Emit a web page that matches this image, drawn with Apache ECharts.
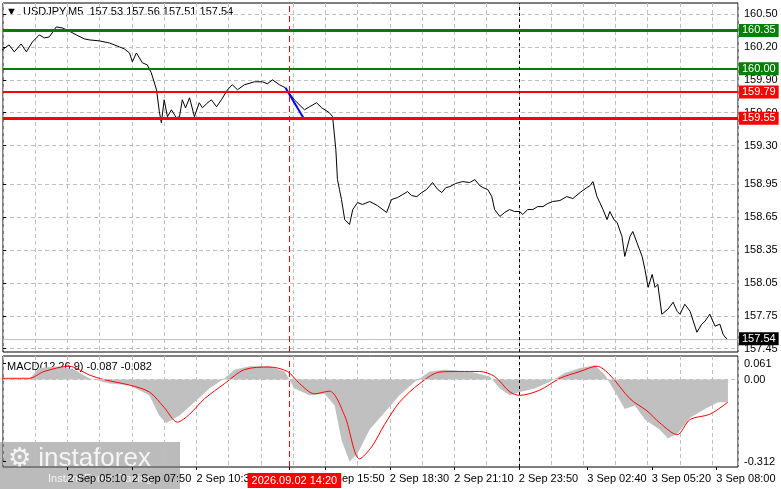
<!DOCTYPE html>
<html>
<head>
<meta charset="utf-8">
<title>USDJPY M5</title>
<style>
* { margin: 0; padding: 0; }
body { background: #fff; }
</style>
</head>
<body>
<div id="chart" style="width: 781px; height: 489px;"></div>
<script src="https://cdn.jsdelivr.net/npm/echarts@6/dist/echarts.min.js"></script>
<script>
// time = minutes since 2 Sep 00:00
var priceTime = [148,165,178,195,208,223,240,253,265,282,297,314,332,352,364,389,414,439,451,464,471,481,496,508,518,531,538,543,550,558,568,580,588,595,603,613,625,637,645,655,667,680,692,707,719,732,749,774,794,806,819,836,851,873,898,911,928,941,960,968,976,980,985,990,998,1010,1018,1030,1042,1060,1079,1102,1114,1129,1142,1154,1164,1177,1189,1201,1216,1229,1239,1249,1259,1273,1291,1308,1321,1333,1341,1353,1363,1370,1383,1395,1407,1420,1432,1440,1452,1465,1477,1490,1502,1514,1532,1549,1564,1582,1599,1607,1614,1624,1631,1639,1649,1656,1666,1674,1686,1693,1706,1713,1723,1736,1743,1751,1761,1768,1775,1785,1800,1813,1823,1830,1842,1855,1872,1884,1892,1904,1917,1929,1937,1942,1947];
var priceValue = [160.173,160.218,160.155,160.227,160.155,160.245,160.309,160.282,160.291,160.382,160.373,160.345,160.309,160.273,160.264,160.255,160.236,160.200,160.182,160.145,160.064,160.145,160.055,160.036,159.964,159.809,159.609,159.509,159.718,159.564,159.627,159.555,159.564,159.718,159.645,159.736,159.564,159.691,159.645,159.682,159.718,159.655,159.718,159.809,159.855,159.809,159.855,159.882,159.882,159.864,159.900,159.855,159.827,159.718,159.627,159.655,159.691,159.645,159.600,159.564,159.264,158.991,158.900,158.809,158.627,158.582,158.718,158.782,158.764,158.791,158.755,158.691,158.809,158.827,158.855,158.882,158.845,158.836,158.873,158.900,158.964,158.900,158.873,158.918,158.927,158.955,158.973,158.964,158.991,158.936,158.918,158.900,158.836,158.718,158.655,158.691,158.718,158.700,158.700,158.673,158.718,158.718,158.745,158.745,158.773,158.791,158.800,158.836,158.818,158.873,158.918,158.936,158.973,158.836,158.782,158.718,158.627,158.700,158.627,158.600,158.473,158.291,158.473,158.518,158.418,158.291,158.173,158.009,158.127,158.009,158.036,157.764,157.809,157.873,157.791,157.764,157.855,157.791,157.600,157.673,157.700,157.764,157.655,157.673,157.582,157.555,157.540];

var trendTime = [851, 896];
var trendValue = [159.827, 159.55];

var histTime = [148,215,240,290,327,364,414,464,513,538,555,588,625,662,700,724,762,811,849,873,911,948,973,990,1010,1030,1060,1097,1134,1172,1209,1246,1308,1358,1383,1408,1432,1470,1507,1544,1582,1619,1644,1669,1693,1718,1743,1780,1800,1825,1855,1892,1924,1949];
var histValue = [0.002,0.002,0.044,0.051,0.038,0.005,-0.015,-0.021,-0.060,-0.138,-0.165,-0.137,-0.086,-0.034,0.005,0.038,0.051,0.051,0.031,-0.034,-0.060,-0.054,-0.099,-0.230,-0.312,-0.282,-0.190,-0.125,-0.060,-0.008,0.031,0.038,0.031,0.012,-0.034,-0.060,-0.047,-0.034,-0.008,0.025,0.044,0.055,0.018,-0.047,-0.112,-0.099,-0.152,-0.191,-0.224,-0.204,-0.145,-0.112,-0.086,-0.086];

var signalTime = [148,215,252,314,364,401,464,513,550,583,613,650,700,749,811,856,886,923,960,998,1035,1065,1097,1134,1184,1234,1283,1333,1370,1408,1432,1482,1532,1582,1624,1656,1706,1748,1780,1823,1855,1904,1949];
var signalValue = [0.005,0.005,0.031,0.051,0.018,0.000,-0.021,-0.047,-0.106,-0.162,-0.132,-0.073,-0.015,0.038,0.048,0.031,-0.015,-0.054,-0.044,-0.138,-0.302,-0.256,-0.171,-0.086,-0.015,0.029,0.031,0.031,0.012,-0.047,-0.060,-0.040,0.005,0.031,0.051,0.018,-0.073,-0.119,-0.165,-0.210,-0.152,-0.132,-0.086];

var priceTicks = [160.50,160.20,159.90,159.60,159.30,158.95,158.65,158.35,158.05,157.75,157.45];
var macdTicks = [0.061,0.00,-0.312];
var timeTicks = [148,310,470,630,860,950,1110,1270,1430,1600,1760,1920];
var markedLabelAt = 757; // left edge of the red time box, centred on 14:20
var timeLabels = [148,310,470,630,950,1110,1270,1430,1600,1760,1920,757];
var levels = [
  { value: 160.35, color: '#008000', width: 3 },
  { value: 160.00, color: '#008000', width: 2 },
  { value: 159.79, color: '#ff0000', width: 2 },
  { value: 159.55, color: '#ff0000', width: 3 }
];
var lastPrice = 157.54;
var markedTime = 860;   // 14:20
var dayBreakTime = 1430; // 23:50

var T0 = 150; // axis origin at 2 Sep 02:30, so gridlines fall on 80-minute steps
function pairs(ts, vs) { return ts.map(function (t, i) { return [t - T0, vs[i]]; }); }
function shift(ts) { return ts.map(function (t) { return t - T0; }); }
function timeLabel(v) {
  var t = Math.round(v + T0);
  if (t === 148) return '2 Sep 2026';
  if (t === markedLabelAt) return '{hl|2026.09.02 14:20}';
  var day = t >= 1440 ? '3 Sep ' : '2 Sep ';
  var m = t % 1440, h = Math.floor(m / 60), mm = m % 60;
  return day + (h < 10 ? '0' : '') + h + ':' + (mm < 10 ? '0' : '') + mm;
}

var font = 'Liberation Sans';
var chart = echarts.init(document.getElementById('chart'));
var xBase = { type: 'value', min: 0, max: 1824, interval: 80,
  axisLine: { show: false }, axisTick: { show: false }, axisLabel: { show: false },
  splitLine: { show: true, lineStyle: { color: '#c0c0c0', type: [4, 3] } } };

chart.setOption({
  animation: false,
  backgroundColor: '#fff',
  textStyle: { fontFamily: font },
  grid: [
    { left: 3, right: 43, top: 3, height: 349, show: true, borderColor: '#000', borderWidth: 1 },
    { left: 3, right: 43, top: 356, height: 111, show: true, borderColor: '#000', borderWidth: 1 }
  ],
  xAxis: [
    Object.assign({ gridIndex: 0 }, xBase),
    Object.assign({ gridIndex: 1 }, xBase),
    { gridIndex: 1, type: 'value', min: 0, max: 1824, position: 'bottom',
      axisLine: { show: false }, axisTick: { show: true, length: 3, lineStyle: { color: '#000' }, customValues: shift(timeTicks) },
      splitLine: { show: false },
      axisLabel: { customValues: shift(timeLabels), formatter: timeLabel, hideOverlap: false,
        color: '#000', fontSize: 11, fontFamily: font, align: 'left', margin: 6,
        rich: { hl: { backgroundColor: '#ff0000', color: '#fff', fontSize: 11, fontFamily: font, padding: [2, 4, 2, 4] } } } }
  ],
  yAxis: [
    { gridIndex: 0, type: 'value', position: 'right', min: 157.42, max: 160.60,
      axisLine: { show: false },
      axisTick: { show: true, length: 3, lineStyle: { color: '#000' }, customValues: priceTicks },
      axisLabel: { customValues: priceTicks, color: '#000', fontSize: 11, fontFamily: font, margin: 6,
        formatter: function (v) { return v.toFixed(2); } },
      splitLine: { show: true, lineStyle: { color: '#c0c0c0', type: [4, 3] } } },
    { gridIndex: 1, type: 'value', position: 'right', min: -0.333, max: 0.09,
      axisLine: { show: false },
      axisTick: { show: true, length: 3, lineStyle: { color: '#000' }, customValues: macdTicks },
      axisLabel: { customValues: macdTicks, color: '#000', fontSize: 11, fontFamily: font, margin: 6,
        formatter: function (v) { return v === 0 ? '0.00' : String(v); } },
      splitLine: { show: false } }
  ],
  graphic: [
    { type: 'text', left: 6, top: 6, style: { text: '\u25BC  USDJPY,M5  157.53 157.56 157.51 157.54', fill: '#000', font: '11px ' + font } },
    { type: 'text', left: 7, top: 361, style: { text: 'MACD(12,26,9) -0.087 -0.082', fill: '#000', font: '11px ' + font } },
    { type: 'rect', left: 0, top: 442, shape: { width: 180, height: 47 }, style: { fill: 'rgba(120,120,120,0.5)' } },
    { type: 'text', left: 8, top: 446, style: { text: '\u2699 instaforex', fill: 'rgba(255,255,255,0.85)', font: '26px ' + font } },
    { type: 'text', left: 48, top: 473, style: { text: 'Instant Forex Trading', fill: 'rgba(255,255,255,0.85)', font: '11px ' + font } }
  ],
  series: [
    { name: 'USDJPY', type: 'line', xAxisIndex: 0, yAxisIndex: 0, data: pairs(priceTime, priceValue),
      symbol: 'none', lineStyle: { color: '#000', width: 1 }, z: 3,
      markLine: { silent: true, symbol: 'none', animation: false,
        data: levels.map(function (l) {
          return { yAxis: l.value, lineStyle: { color: l.color, width: l.width, type: 'solid' },
            label: { show: true, position: 'end', distance: 1, formatter: l.value.toFixed(2), color: '#fff',
              backgroundColor: l.color, fontSize: 11, fontFamily: font, padding: [1, 3] } };
        }).concat([
          { yAxis: lastPrice, lineStyle: { color: '#c0c0c0', width: 1, type: 'solid' },
            label: { show: true, position: 'end', distance: 1, formatter: lastPrice.toFixed(2), color: '#fff',
              backgroundColor: '#000', fontSize: 11, fontFamily: font, padding: [1, 3] } },
          { xAxis: markedTime - T0, lineStyle: { color: '#ff0000', width: 1, type: [6, 4] }, label: { show: false } },
          { xAxis: dayBreakTime - T0, lineStyle: { color: '#000', width: 1, type: [3, 3] }, label: { show: false } }
        ]) } },
    { name: 'Trend', type: 'line', xAxisIndex: 0, yAxisIndex: 0, data: pairs(trendTime, trendValue),
      symbol: 'none', lineStyle: { color: '#0000ff', width: 2 }, z: 4 },
    { name: 'MACD', type: 'line', xAxisIndex: 1, yAxisIndex: 1, data: pairs(histTime, histValue),
      symbol: 'none', lineStyle: { width: 0 }, areaStyle: { color: '#c0c0c0', opacity: 1, origin: 0 }, z: 2,
      markLine: { silent: true, symbol: 'none', animation: false, label: { show: false },
        data: [
          { yAxis: 0, lineStyle: { color: '#c0c0c0', width: 1, type: [4, 3] } },
          { xAxis: markedTime - T0, lineStyle: { color: '#ff0000', width: 1, type: [6, 4] } },
          { xAxis: dayBreakTime - T0, lineStyle: { color: '#000', width: 1, type: [3, 3] } }
        ] } },
    { name: 'Signal', type: 'line', xAxisIndex: 1, yAxisIndex: 1, data: pairs(signalTime, signalValue),
      symbol: 'none', smooth: 0.3, lineStyle: { color: '#ff0000', width: 1 }, z: 3 }
  ]
});
</script>
</body>
</html>
